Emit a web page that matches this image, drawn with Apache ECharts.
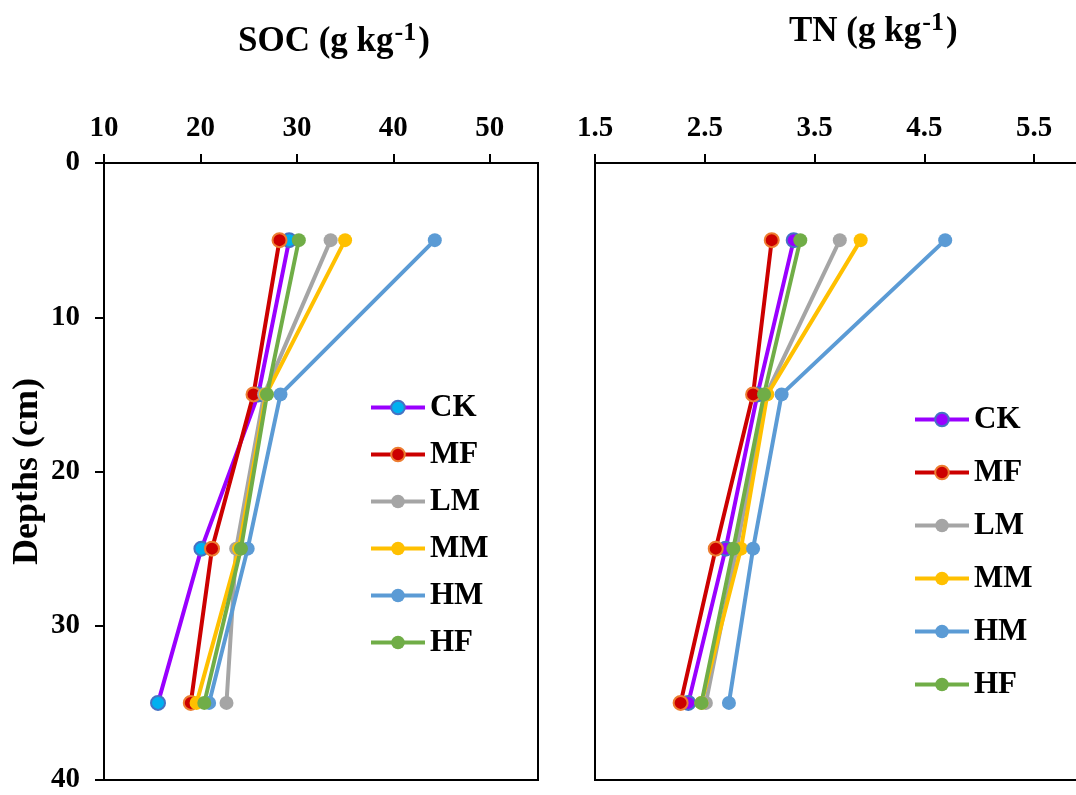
<!DOCTYPE html>
<html>
<head>
<meta charset="utf-8">
<script src="https://cdn.jsdelivr.net/npm/echarts@6/dist/echarts.min.js"></script>
<style>
html,body{margin:0;padding:0;background:#fff;}
#main{width:1076px;height:795px;}
</style>
</head>
<body>
<div id="main"></div>
<script>
// ---- data ----
var depths = [5, 15, 25, 35];
var treatments = ['CK', 'MF', 'LM', 'MM', 'HM', 'HF'];
var socCK = [29.2, 26.0, 20.1, 15.6];
var socMF = [28.2, 25.5, 21.2, 19.0];
var socLM = [33.5, 26.6, 23.7, 22.7];
var socMM = [35.0, 26.8, 24.0, 19.6];
var socHM = [44.3, 28.3, 24.9, 20.9];
var socHF = [30.2, 26.9, 24.2, 20.4];
var tnCK = [3.31, 2.98, 2.69, 2.35];
var tnMF = [3.11, 2.94, 2.60, 2.28];
var tnLM = [3.73, 3.06, 2.79, 2.51];
var tnMM = [3.92, 3.07, 2.83, 2.47];
var tnHM = [4.69, 3.20, 2.94, 2.72];
var tnHF = [3.37, 3.04, 2.76, 2.47];
var socTicks = [10, 20, 30, 40, 50];
var tnTicks = [1.5, 2.5, 3.5, 4.5, 5.5];
var depthTicks = [0, 10, 20, 30, 40];

var FONT = 'Liberation Serif';
var colors = {
  CK: {line: '#9900FF', fill: '#00B0F0', border: '#4472C4'},
  CK2: {line: '#9900FF', fill: '#9900FF', border: '#4472C4'},
  MF: {line: '#CC0000', fill: '#CC0000', border: '#ED7D31'},
  LM: {line: '#A5A5A5', fill: '#A5A5A5', border: '#A5A5A5'},
  MM: {line: '#FFC000', fill: '#FFC000', border: '#FFC000'},
  HM: {line: '#5B9BD5', fill: '#5B9BD5', border: '#5B9BD5'},
  HF: {line: '#70AD47', fill: '#70AD47', border: '#70AD47'}
};

function pairs(vals) {
  return vals.map(function (v, i) { return [v, depths[i]]; });
}
function mk(name, vals, gi, ckey) {
  var c = colors[ckey || name];
  return {
    name: name, type: 'line', xAxisIndex: gi, yAxisIndex: gi,
    data: pairs(vals), symbol: 'circle', symbolSize: 14,
    lineStyle: {color: c.line, width: 4},
    itemStyle: {color: c.fill, borderColor: c.border, borderWidth: (name === 'CK' || name === 'MF') ? 2 : 0},
    emphasis: {disabled: true}, animation: false
  };
}

var socVals = {CK: socCK, MF: socMF, LM: socLM, MM: socMM, HM: socHM, HF: socHF};
var tnVals = {CK: tnCK, MF: tnMF, LM: tnLM, MM: tnMM, HM: tnHM, HF: tnHF};
var series = [];
treatments.forEach(function (t) { series.push(mk(t, socVals[t], 0)); });
treatments.forEach(function (t) { series.push(mk(t, tnVals[t], 1, t === 'CK' ? 'CK2' : t)); });

var labelStyle = {color: '#000', fontFamily: FONT, fontWeight: 'bold', fontSize: 29};
var legendText = {color: '#000', fontFamily: FONT, fontWeight: 'bold', fontSize: 31, lineHeight: 30};

function xAxis(gi, min, max, ticks) {
  return {
    type: 'value', gridIndex: gi, position: 'top', min: min, max: max,
    axisLine: {show: true, lineStyle: {color: '#000', width: 2}},
    axisTick: {show: true, inside: false, length: 9, lineStyle: {color: '#000', width: 2}, customValues: ticks},
    axisLabel: Object.assign({margin: 20, customValues: ticks}, labelStyle),
    splitLine: {show: false}
  };
}

var titleRich = {
  a: {fontFamily: FONT, fontWeight: 'bold', fontSize: 35, fill: '#000', lineHeight: 44},
  b: {fontFamily: FONT, fontWeight: 'bold', fontSize: 26, fill: '#000', lineHeight: 44, verticalAlign: 'top', padding: [0, 2, 14, 1]}
};

var option = {
  backgroundColor: '#fff',
  animation: false,
  grid: [
    {left: 104, top: 163, width: 434, bottom: 15, show: true, borderColor: '#000', borderWidth: 2, containLabel: false, outerBoundsMode: 'none'},
    {left: 595, top: 163, width: 494, bottom: 15, show: true, borderColor: '#000', borderWidth: 2, containLabel: false, outerBoundsMode: 'none'}
  ],
  xAxis: [xAxis(0, 10, 55, socTicks), xAxis(1, 1.5, 6.0, tnTicks)],
  yAxis: [
    {
      type: 'value', gridIndex: 0, inverse: true, min: 0, max: 40, interval: 10,
      name: 'Depths (cm)', nameLocation: 'middle', nameGap: 58, nameRotate: 90,
      nameTextStyle: {color: '#000', fontFamily: FONT, fontWeight: 'bold', fontSize: 36},
      axisLine: {show: true, lineStyle: {color: '#000', width: 2}},
      axisTick: {show: true, inside: false, length: 9, lineStyle: {color: '#000', width: 2}, customValues: depthTicks},
      axisLabel: Object.assign({margin: 24, customValues: depthTicks}, labelStyle),
      splitLine: {show: false}
    },
    {
      type: 'value', gridIndex: 1, inverse: true, min: 0, max: 40, interval: 10,
      axisLine: {show: true, lineStyle: {color: '#000', width: 2}},
      axisTick: {show: false}, axisLabel: {show: false}, splitLine: {show: false}
    }
  ],
  legend: [
    {
      data: treatments, orient: 'vertical', left: 369, top: 392, padding: 0,
      itemWidth: 54, itemHeight: 17, itemGap: 16, textStyle: legendText,
      lineStyle: {width: 4}, selectedMode: false
    },
    {
      data: treatments.map(function (t) {
        if (t === 'CK') return {name: 'CK', itemStyle: {color: colors.CK2.fill, borderColor: colors.CK2.border, borderWidth: 2}, lineStyle: {color: colors.CK2.line, width: 4}};
        return t;
      }),
      orient: 'vertical', left: 913, top: 404, padding: 0,
      itemWidth: 54, itemHeight: 17, itemGap: 22, textStyle: legendText,
      lineStyle: {width: 4}, selectedMode: false
    }
  ],
  graphic: [
    {
      type: 'text', left: 238, top: 20,
      style: {text: '{a|SOC (g kg}{b|-1}{a|)}', rich: titleRich}
    },
    {
      type: 'text', left: 789, top: 10,
      style: {text: '{a|TN (g kg}{b|-1}{a|)}', rich: titleRich}
    }
  ],
  series: series
};

var chart = echarts.init(document.getElementById('main'), null, {renderer: 'canvas'});
chart.setOption(option);
</script>
</body>
</html>
